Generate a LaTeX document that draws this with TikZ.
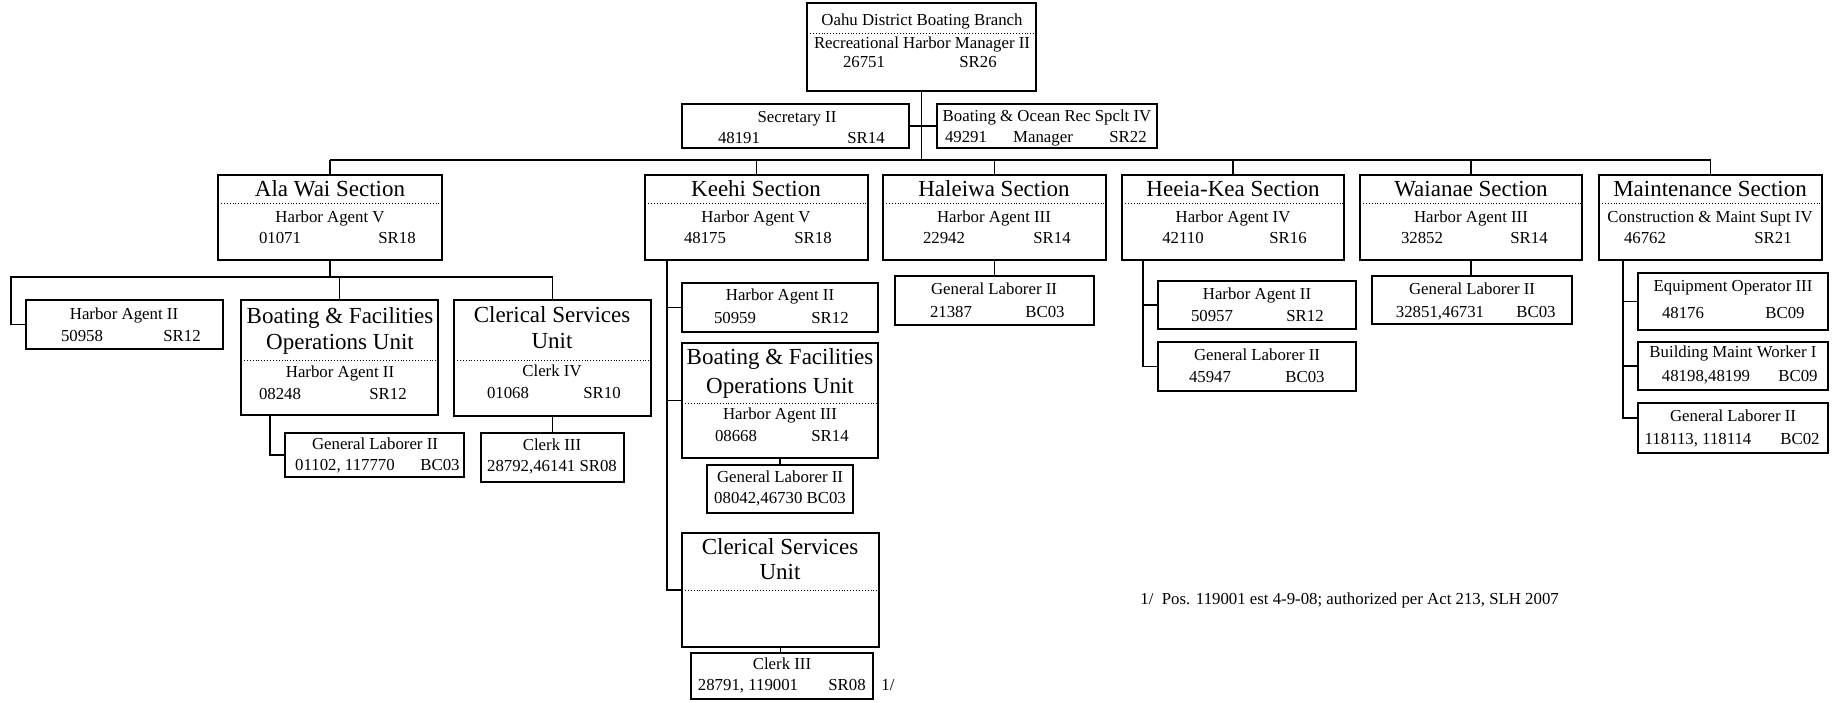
\documentclass[tikz,border=0pt]{standalone}
\usepackage{fontspec}
\setmainfont{Liberation Serif}
\newcommand{\mkbox}[5]{\node[box, minimum width={(#4-#2)*0.5pt}, minimum height={(#5-#3)*0.5pt}] (#1) at ({(#2+#4)/2},{(#3+#5)/2}) {};}
\newcommand{\mktxt}[5][sm]{\node[#1] (#2) at (#3,#4) {#5};}
\newcommand{\mksep}[2]{\draw[sepline] (#1.west |- 0,#2) -- (#1.east |- 0,#2);}
\begin{document}
\begin{tikzpicture}[x=0.5pt,y=-0.5pt,
  box/.style={draw, line width=1pt, inner sep=0pt, outer sep=0pt},
  conn/.style={line width=0.9pt},
  sepline/.style={line width=0.45pt, densely dotted},
  sm/.style={inner sep=0pt, font=\fontsize{8.4}{9}\selectfont, text height=5.8pt, text depth=1.7pt},
  big/.style={inner sep=0pt, font=\fontsize{11.5}{12}\selectfont, text height=8pt, text depth=2.4pt}]
\useasboundingbox (0,0) rectangle (1845,702);
\fill[white] (0,0) rectangle (1845,702);

% ---------- top ----------
\mkbox{oahu}{807}{3}{1036}{91}
\mktxt{toahua}{922}{21}{Oahu District Boating Branch}
\mksep{oahu}{33}
\mktxt{toahub}{922}{44}{Recreational Harbor Manager II}
\mktxt{toahuc}{864}{63}{26751}
\mktxt{toahud}{978}{63}{SR26}

\mkbox{sec}{682}{104}{909}{148}
\mktxt{tseca}{797}{118}{Secretary II}
\mktxt{tsecb}{739}{139}{48191}
\mktxt{tsecc}{866}{139}{SR14}

\mkbox{bor}{937}{104}{1157}{148}
\mktxt{tbora}{1047}{117}{Boating \& Ocean Rec Spclt IV}
\mktxt{tborb}{966}{138}{49291}
\mktxt{tborc}{1043}{138}{Manager}
\mktxt{tbord}{1128}{138}{SR22}

% ---------- sections ----------
\mkbox{alawai}{218}{175}{442}{260}
\mktxt[big]{tawa}{330}{191}{Ala Wai Section}
\mksep{alawai}{203}
\mktxt{tawb}{330}{218}{Harbor Agent V}
\mktxt{tawc}{280}{239}{01071}
\mktxt{tawd}{397}{239}{SR18}

\mkbox{keehi}{645}{175}{868}{260}
\mktxt[big]{tkha}{756}{191}{Keehi Section}
\mksep{keehi}{203}
\mktxt{tkhb}{756}{218}{Harbor Agent V}
\mktxt{tkhc}{705}{239}{48175}
\mktxt{tkhd}{813}{239}{SR18}

\mkbox{haleiwa}{883}{175}{1106}{260}
\mktxt[big]{thla}{994}{191}{Haleiwa Section}
\mksep{haleiwa}{203}
\mktxt{thlb}{994}{218}{Harbor Agent III}
\mktxt{thlc}{944}{239}{22942}
\mktxt{thld}{1052}{239}{SR14}

\mkbox{heeia}{1122}{175}{1344}{260}
\mktxt[big]{thea}{1233}{191}{Heeia-Kea Section}
\mksep{heeia}{203}
\mktxt{theb}{1233}{218}{Harbor Agent IV}
\mktxt{thec}{1183}{239}{42110}
\mktxt{thed}{1288}{239}{SR16}

\mkbox{waianae}{1360}{175}{1582}{260}
\mktxt[big]{twaa}{1471}{191}{Waianae Section}
\mksep{waianae}{203}
\mktxt{twab}{1471}{218}{Harbor Agent III}
\mktxt{twac}{1422}{239}{32852}
\mktxt{twad}{1529}{239}{SR14}

\mkbox{maint}{1599}{175}{1822}{260}
\mktxt[big]{tmta}{1710}{191}{Maintenance Section}
\mksep{maint}{203}
\mktxt{tmtb}{1710}{218}{Construction \& Maint Supt IV}
\mktxt{tmtc}{1645}{239}{46762}
\mktxt{tmtd}{1773}{239}{SR21}

% ---------- Ala Wai children ----------
\mkbox{awha}{26}{300}{223}{349}
\mktxt{tawha}{124}{315}{Harbor Agent II}
\mktxt{tawhb}{82}{337}{50958}
\mktxt{tawhc}{182}{337}{SR12}

\mkbox{awbf}{241}{300}{438}{415}
\mktxt[big]{tawba}{340}{318}{Boating \& Facilities}
\mktxt[big]{tawbb}{340}{344}{Operations Unit}
\mksep{awbf}{360}
\mktxt{tawbc}{340}{373}{Harbor Agent II}
\mktxt{tawbd}{280}{395}{08248}
\mktxt{tawbe}{388}{395}{SR12}

\mkbox{awgl}{285}{433}{464}{477}
\mktxt{tawga}{375}{445}{General Laborer II}
\mktxt{tawgb}{345}{466}{01102, 117770}
\mktxt{tawgc}{440}{466}{BC03}

\mkbox{awcs}{454}{300}{651}{416}
\mktxt[big]{tawca}{552}{317}{Clerical Services}
\mktxt[big]{tawcb}{552}{343}{Unit}
\mksep{awcs}{360}
\mktxt{tawcc}{552}{372}{Clerk IV}
\mktxt{tawcd}{508}{394}{01068}
\mktxt{tawce}{602}{394}{SR10}

\mkbox{awck}{481}{433}{624}{482}
\mktxt{tawka}{552}{446}{Clerk III}
\mktxt{tawkb}{552}{467}{28792,46141 SR08}

% ---------- Keehi children ----------
\mkbox{khha}{682}{283}{878}{332}
\mktxt{tkhha}{780}{296}{Harbor Agent II}
\mktxt{tkhhb}{735}{319}{50959}
\mktxt{tkhhc}{830}{319}{SR12}

\mkbox{khbf}{682}{343}{878}{458}
\mktxt[big]{tkhba}{780}{359}{Boating \& Facilities}
\mktxt[big]{tkhbb}{780}{388}{Operations Unit}
\mksep{khbf}{403}
\mktxt{tkhbc}{780}{415}{Harbor Agent III}
\mktxt{tkhbd}{736}{437}{08668}
\mktxt{tkhbe}{830}{437}{SR14}

\mkbox{khgl}{707}{465}{853}{513}
\mktxt{tkhga}{780}{478}{General Laborer II}
\mktxt{tkhgb}{780}{499}{08042,46730 BC03}

\mkbox{khcs}{682}{533}{879}{647}
\mktxt[big]{tkhca}{780}{549}{Clerical Services}
\mktxt[big]{tkhcb}{780}{574}{Unit}
\mksep{khcs}{590}

\mkbox{khck}{691}{653}{873}{699}
\mktxt{tkhka}{782}{665}{Clerk III}
\mktxt{tkhkb}{748}{686}{28791, 119001}
\mktxt{tkhkc}{847}{686}{SR08}
\mktxt{tkhkd}{888}{686}{1/}

% ---------- Haleiwa child ----------
\mkbox{hlgl}{895}{276}{1094}{325}
\mktxt{thlga}{994}{290}{General Laborer II}
\mktxt{thlgb}{951}{313}{21387}
\mktxt{thlgc}{1045}{313}{BC03}

% ---------- Heeia children ----------
\mkbox{heha}{1158}{281}{1356}{329}
\mktxt{theha}{1257}{295}{Harbor Agent II}
\mktxt{thehb}{1212}{317}{50957}
\mktxt{thehc}{1305}{317}{SR12}

\mkbox{hegl}{1158}{342}{1356}{391}
\mktxt{thega}{1257}{356}{General Laborer II}
\mktxt{thegb}{1210}{378}{45947}
\mktxt{thegc}{1305}{378}{BC03}

% ---------- Waianae child ----------
\mkbox{wagl}{1372}{276}{1572}{324}
\mktxt{twaga}{1472}{290}{General Laborer II}
\mktxt{twagb}{1440}{313}{32851,46731}
\mktxt{twagc}{1536}{313}{BC03}

% ---------- Maintenance children ----------
\mkbox{mteo}{1638}{273}{1828}{330}
\mktxt{tmtea}{1733}{287}{Equipment Operator III}
\mktxt{tmteb}{1683}{314}{48176}
\mktxt{tmtec}{1785}{314}{BC09}

\mkbox{mtbm}{1638}{342}{1828}{390}
\mktxt{tmtba}{1733}{353}{Building Maint Worker I}
\mktxt{tmtbb}{1706}{377}{48198,48199}
\mktxt{tmtbc}{1798}{377}{BC09}

\mkbox{mtgl}{1638}{403}{1828}{453}
\mktxt{tmtga}{1733}{417}{General Laborer II}
\mktxt{tmtgb}{1698}{440}{118113, 118114}
\mktxt{tmtgc}{1800}{440}{BC02}

% ---------- footnote ----------
\node[sm, anchor=west] (foot) at (1140,600) {1/\ \ Pos. 119001 est 4-9-08; authorized per Act 213, SLH 2007};

% ---------- connectors ----------
\coordinate (sbar) at (0,160);
\coordinate (awbar) at (0,277);
\coordinate (awL) at (11,277);
\coordinate (awgx) at (270,0);
\coordinate (khx) at (667,0);
\coordinate (hex) at (1143,0);
\coordinate (mtx) at (1623,0);

\draw[conn] (oahu.south) -- (oahu.south |- sbar);
\draw[conn] (sec.east) -- (bor.west);
\draw[conn] (alawai.north |- sbar) -- (maint.north |- sbar);
\foreach \s in {alawai,keehi,haleiwa,heeia,waianae,maint}
  \draw[conn] (\s.north) -- (\s.north |- sbar);

% Ala Wai
\draw[conn] (alawai.south) -- (alawai.south |- awbar);
\draw[conn] (awcs.north) |- (awL) |- (awha.west);
\draw[conn] (awbf.north) -- (awbf.north |- awbar);
\draw[conn] (awbf.south -| awgx) |- (awgl.west);
\draw[conn] (awcs.south) -- (awck.north);

% Keehi
\draw[conn] (keehi.south -| khx) |- (khcs.west);
\draw[conn] (khha.west) -- (khha.west -| khx);
\draw[conn] (khbf.west) -- (khbf.west -| khx);
\draw[conn] (khbf.south) -- (khgl.north);
\draw[conn] (khcs.south) -- (khcs.south |- khck.north);

% Haleiwa
\draw[conn] (haleiwa.south) -- (haleiwa.south |- hlgl.north);

% Heeia
\draw[conn] (heeia.south -| hex) |- (hegl.west);
\draw[conn] (heha.west) -- (heha.west -| hex);

% Waianae
\draw[conn] (waianae.south) -- (waianae.south |- wagl.north);

% Maintenance
\draw[conn] (maint.south -| mtx) |- ([yshift=5pt]mtgl.west);
\draw[conn] (mteo.west) -- (mteo.west -| mtx);
\draw[conn] (mtbm.west) -- (mtbm.west -| mtx);
\end{tikzpicture}
\end{document}
